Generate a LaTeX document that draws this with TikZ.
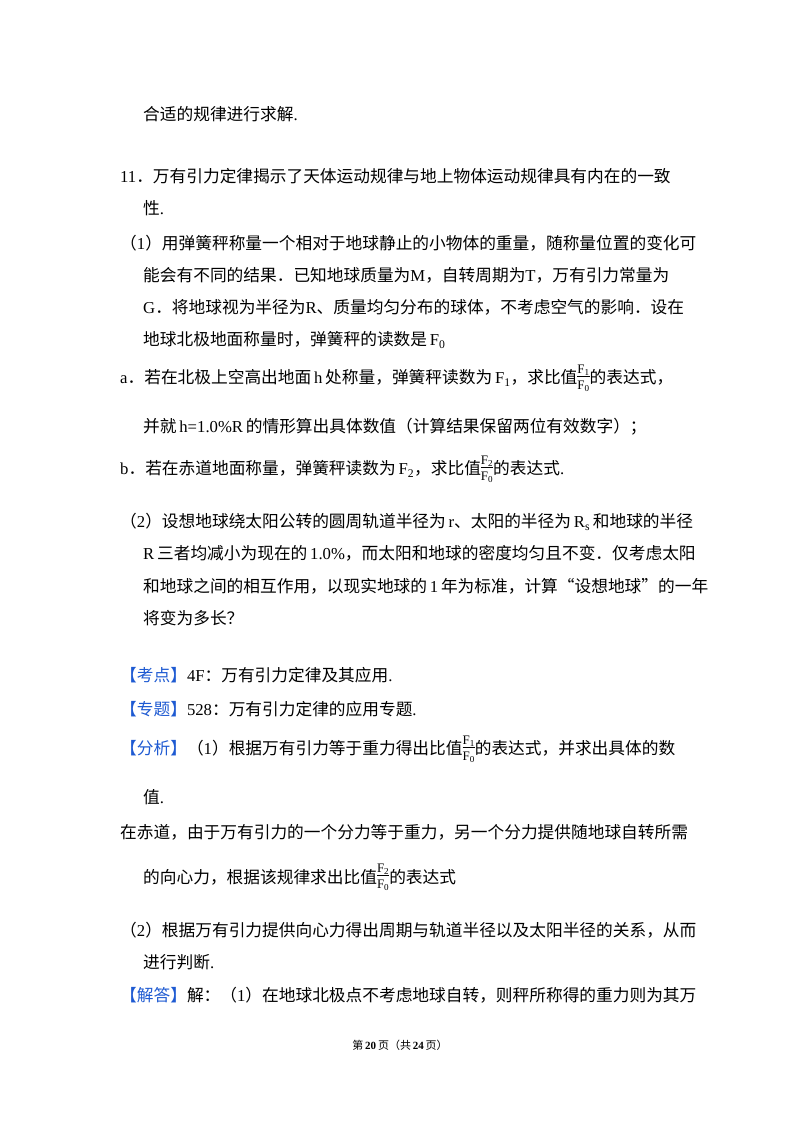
\documentclass[tikz,border=0pt]{standalone}
\usepackage{fontspec}
\setmainfont{Noto Sans CJK SC}
\newfontfamily\lat{Liberation Serif}
\definecolor{kb}{HTML}{1E5AD2}
\newcommand{\la}[1]{{\lat #1}}
\newcommand{\fr}[1]{\raisebox{0.1em}{\setlength{\tabcolsep}{0pt}\renewcommand\arraystretch{1}\begin{tabular}{c}{\lat\fontsize{13}{13}\selectfont F\textsubscript{#1}}\\[-3pt]\hline\rule{0pt}{13pt}{\lat\fontsize{13}{13}\selectfont F\textsubscript{0}}\end{tabular}}}
\newcommand{\kh}[1]{{\color{kb}【#1】}}
\begin{document}
\begin{tikzpicture}[x=1pt,y=-1pt,txt/.style={anchor=west,inner sep=0pt,font=\fontsize{16.7}{18}\selectfont}]
\useasboundingbox (0,0) rectangle (800,1132);
\fill[white] (0,0) rectangle (800,1132);
\node[txt] (l1) at (143,114) {合适的规律进行求解\la{.}};
\node[txt] (l2) at (120,176) {\la{11}．万有引力定律揭示了天体运动规律与地上物体运动规律具有内在的一致};
\node[txt] (l3) at (143,208) {性\la{.}};
\node[txt] (l4) at (120,243) {（\la{1}）用弹簧秤称量一个相对于地球静止的小物体的重量，随称量位置的变化可};
\node[txt] (l5) at (143,275) {能会有不同的结果．已知地球质量为\la{M}，自转周期为\la{T}，万有引力常量为};
\node[txt] (l6) at (143,307) {\la{G}．将地球视为半径为\la{R}、质量均匀分布的球体，不考虑空气的影响．设在};
\node[txt] (l7) at (143,340) {地球北极地面称量时，弹簧秤的读数是\,\la{F\textsubscript{0}}};
\node[txt] (l8) at (120,378) {\la{a}．若在北极上空高出地面\,\la{h}\,处称量，弹簧秤读数为\,\la{F\textsubscript{1}}，求比值\fr{1}的表达式，};
\node[txt] (l9) at (143,427) {并就\,\la{h=1.0\%R}\,的情形算出具体数值（计算结果保留两位有效数字）；};
\node[txt] (l10) at (120,469) {\la{b}．若在赤道地面称量，弹簧秤读数为\,\la{F\textsubscript{2}}，求比值\fr{2}的表达式\la{.}};
\node[txt] (l11) at (120,522) {（\la{2}）设想地球绕太阳公转的圆周轨道半径为\,\la{r}、太阳的半径为\,\la{R\textsubscript{s}}\,和地球的半径};
\node[txt] (l12) at (143,553) {\la{R}\,三者均减小为现在的\,\la{1.0\%}，而太阳和地球的密度均匀且不变．仅考虑太阳};
\node[txt] (l13) at (143,586) {和地球之间的相互作用，以现实地球的\,\la{1}\,年为标准，计算“设想地球”的一年};
\node[txt] (l14) at (143,618) {将变为多长？};
\node[txt] (l15) at (120,675) {\kh{考点}\la{4F}：万有引力定律及其应用\la{.}};
\node[txt] (l16) at (120,709) {\kh{专题}\la{528}：万有引力定律的应用专题\la{.}};
\node[txt] (l17) at (120,749) {\kh{分析}（\la{1}）根据万有引力等于重力得出比值\fr{1}的表达式，并求出具体的数};
\node[txt] (l18) at (143,797) {值\la{.}};
\node[txt] (l19) at (120,832) {在赤道，由于万有引力的一个分力等于重力，另一个分力提供随地球自转所需};
\node[txt] (l20) at (143,877) {的向心力，根据该规律求出比值\fr{2}的表达式};
\node[txt] (l21) at (120,930) {（\la{2}）根据万有引力提供向心力得出周期与轨道半径以及太阳半径的关系，从而};
\node[txt] (l22) at (143,962) {进行判断\la{.}};
\node[txt] (l23) at (120,995) {\kh{解答}解：（\la{1}）在地球北极点不考虑地球自转，则秤所称得的重力则为其万};
\node[anchor=center,inner sep=0pt,font=\fontsize{11}{12}\selectfont] (ft) at (400,1045) {第\,\la{\textbf{20}}\,页（共\,\la{\textbf{24}}\,页）};
\end{tikzpicture}
\end{document}
